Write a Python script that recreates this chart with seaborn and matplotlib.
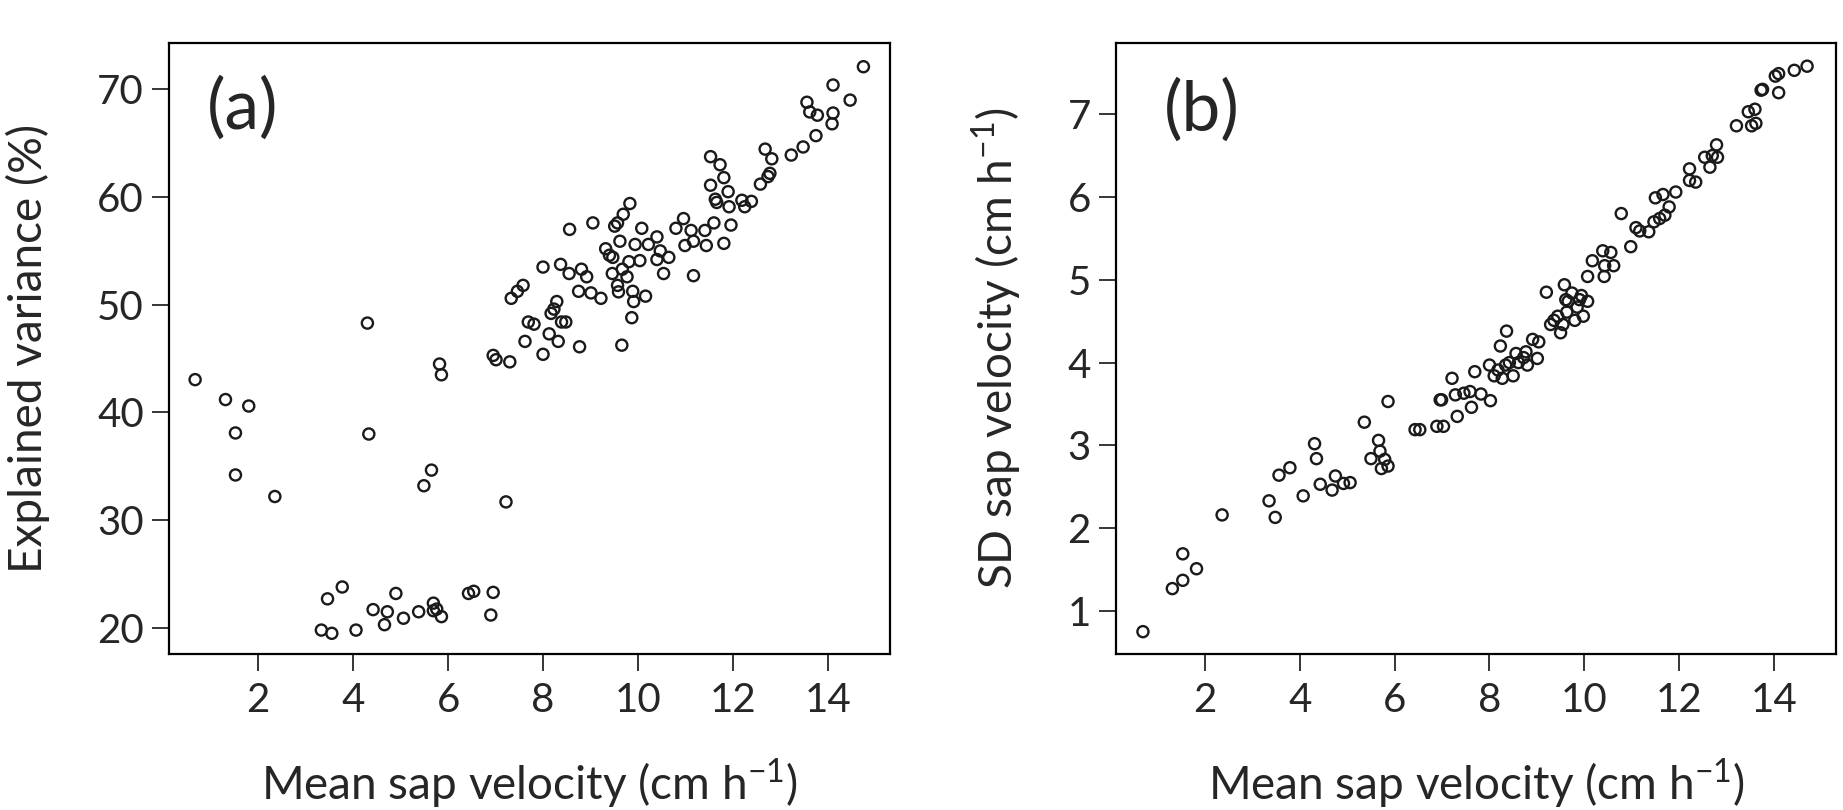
import matplotlib
matplotlib.use("Agg")
import matplotlib.pyplot as plt
import seaborn as sns
import pandas as pd

# Panel (a): mean sap velocity vs explained variance
mean_vel_a = [0.67, 1.31, 1.80, 1.52, 1.52, 2.35, 4.30, 4.33, 5.65, 5.49, 7.22, 5.82, 5.86,
              3.33, 3.55, 3.46, 3.77, 4.06, 4.42, 4.72, 4.66, 4.90, 5.06, 5.38, 5.69, 5.69,
              5.76, 5.86, 6.43, 6.54, 6.95, 6.90,
              6.95, 7.01, 7.30, 7.33, 7.46, 7.58, 7.62, 7.69, 7.81, 8.00, 8.00, 8.13, 8.17,
              8.23, 8.29, 8.32, 8.37, 8.39, 8.48, 8.55, 8.56, 8.75, 8.81, 8.77, 8.92, 9.01,
              9.05, 9.22, 9.32, 9.40, 9.47, 9.46, 9.51, 9.57, 9.57, 9.59, 9.62, 9.69, 9.66,
              9.67, 9.77, 9.83, 9.81, 9.89, 9.91, 9.87, 9.94, 10.04, 10.08, 10.16, 10.22,
              10.40, 10.40, 10.47, 10.54, 10.65, 10.80, 10.96, 10.99, 11.12, 11.17, 11.17,
              11.41, 11.44, 11.53, 11.53, 11.60, 11.63, 11.66, 11.73, 11.81, 11.81, 11.90,
              11.92, 11.96, 12.19, 12.25, 12.39, 12.58, 12.68, 12.74, 12.78, 12.82, 13.23,
              13.48, 13.56, 13.62, 13.75, 13.78, 14.09, 14.11, 14.11, 14.47, 14.75]
expl_var = [43.05, 41.2, 40.6, 38.1, 34.2, 32.2, 48.3, 38.0, 34.65, 33.2, 31.7, 44.5, 43.5,
            19.8, 19.5, 22.7, 23.8, 19.8, 21.7, 21.5, 20.3, 23.2, 20.9, 21.5, 22.3, 21.6,
            21.75, 21.05, 23.2, 23.4, 23.3, 21.2,
            45.3, 44.9, 44.7, 50.6, 51.25, 51.8, 46.6, 48.4, 48.2, 53.5, 45.4, 47.3, 49.2,
            49.6, 50.3, 46.6, 53.75, 48.4, 48.4, 52.9, 57.0, 51.25, 53.3, 46.1, 52.6, 51.1,
            57.6, 50.6, 55.2, 54.6, 54.4, 52.9, 57.3, 57.6, 51.8, 51.2, 55.9, 58.4, 46.25,
            53.3, 52.6, 59.4, 54.0, 51.25, 50.3, 48.8, 55.6, 54.1, 57.1, 50.8, 55.6,
            56.3, 54.2, 55.0, 52.9, 54.4, 57.1, 58.0, 55.5, 56.9, 55.9, 52.7,
            56.9, 55.5, 61.1, 63.75, 57.6, 59.8, 59.5, 63.0, 61.8, 55.7, 60.5,
            59.1, 57.4, 59.7, 59.1, 59.6, 61.2, 64.45, 61.9, 62.2, 63.55, 63.9,
            64.65, 68.8, 67.9, 65.7, 67.6, 66.8, 67.8, 70.4, 69.0, 72.1]

# Panel (b): mean sap velocity vs SD of sap velocity
mean_vel_b = [0.69, 1.31, 1.53, 1.53, 1.82, 2.36, 3.35, 3.48, 3.56, 3.79, 4.07, 4.31, 4.35,
              4.43, 4.68, 4.75, 4.92, 5.06, 5.36, 5.50, 5.66, 5.69, 5.72, 5.79, 5.86, 5.86,
              6.43, 6.53, 6.89, 7.03, 6.96, 6.99, 7.21, 7.32, 7.28, 7.46, 7.59, 7.62, 7.69,
              7.82, 8.02, 8.00, 8.10, 8.18, 8.23, 8.27, 8.34, 8.36, 8.42, 8.50, 8.56, 8.61,
              8.72, 8.77, 8.80, 8.91, 9.01, 9.04, 9.20, 9.29, 9.36, 9.44, 9.50, 9.55, 9.58,
              9.61, 9.63, 9.66, 9.74, 9.80, 9.85, 9.90, 9.94, 10.07, 9.98, 10.07, 10.17,
              10.39, 10.42, 10.43, 10.56, 10.62, 10.78, 10.98, 11.09, 11.17, 11.36, 11.47,
              11.50, 11.59, 11.66, 11.70, 11.79, 11.93, 12.22, 12.22, 12.35, 12.54, 12.65,
              12.70, 12.79, 12.81, 13.21, 13.46, 13.53, 13.60, 13.62, 13.73, 13.76, 14.03,
              14.10, 14.10, 14.43, 14.70]
sd_vel = [0.75, 1.27, 1.37, 1.69, 1.51, 2.16, 2.33, 2.13, 2.64, 2.73, 2.39, 3.02, 2.84,
          2.53, 2.46, 2.63, 2.54, 2.55, 3.28, 2.84, 3.06, 2.93, 2.72, 2.83, 2.75, 3.53,
          3.19, 3.19, 3.23, 3.23, 3.55, 3.55, 3.81, 3.35, 3.61, 3.63, 3.65, 3.46, 3.89,
          3.62, 3.54, 3.97, 3.84, 3.91, 4.20, 3.81, 3.97, 4.38, 4.00, 3.84, 4.11, 4.00,
          4.06, 4.13, 3.97, 4.28, 4.05, 4.25, 4.85, 4.46, 4.51, 4.56, 4.36, 4.46, 4.94,
          4.76, 4.61, 4.74, 4.84, 4.51, 4.67, 4.76, 4.81, 4.74, 4.56, 5.04, 5.23,
          5.35, 5.04, 5.17, 5.33, 5.17, 5.80, 5.40, 5.63, 5.59, 5.58, 5.70,
          5.99, 5.74, 6.03, 5.78, 5.88, 6.06, 6.34, 6.20, 6.18, 6.48, 6.36,
          6.50, 6.63, 6.48, 6.86, 7.03, 6.86, 7.06, 6.89, 7.29, 7.30, 7.46,
          7.49, 7.26, 7.53, 7.58]

x_ticks = [2, 4, 6, 8, 10, 12, 14]
y_ticks_a = [20, 30, 40, 50, 60, 70]
y_ticks_b = [1, 2, 3, 4, 5, 6, 7]

df_a = pd.DataFrame({"mean": mean_vel_a, "ev": expl_var})
df_b = pd.DataFrame({"mean": mean_vel_b, "sd": sd_vel})

sns.set_style("white")
plt.rcParams["font.family"] = ["Lato", "DejaVu Sans"]
plt.rcParams["mathtext.fontset"] = "custom"
plt.rcParams["mathtext.rm"] = "Lato"

fig = plt.figure(figsize=(18.43, 8.10), dpi=100)
ax_a = fig.add_axes([0.0917, 0.1926, 0.3912, 0.7543])
ax_b = fig.add_axes([0.6055, 0.1926, 0.3907, 0.7543])

# open circles like R's default pch=1
pt_kw = dict(facecolor="none", edgecolor="#1a1a1a", linewidth=1.7, s=64)
sns.scatterplot(data=df_a, x="mean", y="ev", ax=ax_a, **pt_kw)
sns.scatterplot(data=df_b, x="mean", y="sd", ax=ax_b, **pt_kw)

xlab = "Mean sap velocity (cm h$^{\\mathregular{-1}}$)"
for ax, yt, ylab in [(ax_a, y_ticks_a, "Explained variance (%)"),
                     (ax_b, y_ticks_b, "SD sap velocity (cm h$^{\\mathregular{-1}}$)")]:
    ax.set_xticks(x_ticks)
    ax.set_yticks(yt)
    ax.set_xlabel(xlab, fontsize=33)
    ax.set_ylabel(ylab, fontsize=33)
    ax.tick_params(axis="both", direction="out", length=12, width=1.3,
                   labelsize=29, pad=6, bottom=True, left=True)
    ax.tick_params(axis="x", pad=8)
    for sp in ax.spines.values():
        sp.set_linewidth(1.6)
        sp.set_color("black")

ax_a.xaxis.set_label_coords(0.5, -0.1686)
ax_b.xaxis.set_label_coords(0.5, -0.1686)
ax_a.yaxis.set_label_coords(-0.165, 0.5)
ax_b.yaxis.set_label_coords(-0.128, 0.5)

ax_a.set_xlim(0.12, 15.31)
ax_a.set_ylim(17.58, 74.3)
ax_b.set_xlim(0.12, 15.31)
ax_b.set_ylim(0.48, 7.86)

ax_a.text(0.102, 0.893, "(a)", transform=ax_a.transAxes, fontsize=50, ha="center", va="center")
ax_b.text(0.119, 0.889, "(b)", transform=ax_b.transAxes, fontsize=50, ha="center", va="center")

fig.savefig("out.png", dpi=100)
